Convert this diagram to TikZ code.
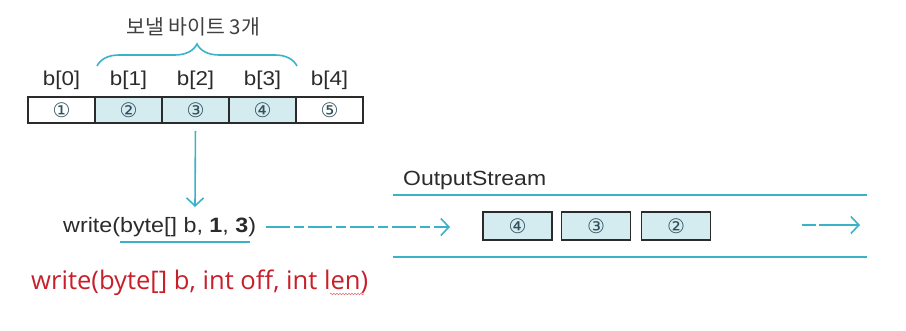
\documentclass[tikz,border=0pt]{standalone}
\usepackage{fontspec}
\setmainfont{Liberation Sans}
\newfontfamily\hangul{Noto Sans CJK KR}
\newfontfamily\circfont{DejaVu Sans}
\newfontfamily\sigfont{Open Sans}
\newfontfamily\widefont[FakeStretch=1.12]{Liberation Sans}
\usetikzlibrary{arrows.meta,decorations.pathreplacing,decorations.pathmorphing}
\definecolor{ink}{HTML}{2B2B2B}
\definecolor{aqua}{HTML}{3AB3C8}
\definecolor{cellfill}{HTML}{D4EBF0}
\definecolor{digit}{HTML}{2F4F5C}
\definecolor{sigred}{HTML}{C8202A}
\tikzset{
  every node/.style={font=\widefont\fontsize{19}{22}\selectfont,text=ink},
  arr/.style={-{Straight Barb[length=8pt,width=17pt]},line width=1.6pt,draw=aqua},
  dasharr/.style={arr,dash pattern=on 24pt off 4pt on 10pt off 4pt},
  rail/.style={draw=aqua,line width=1.8pt},
  cell/.style={draw=ink,line width=1.6pt,minimum width=67pt,minimum height=26pt,inner sep=0,text=digit,font=\circfont\fontsize{20}{20}\selectfont},
  idx/.style={inner sep=0,font=\widefont\fontsize{20}{22}\selectfont}
}
\begin{document}
\begin{tikzpicture}[x=1pt,y=-1pt]
  \path[use as bounding box] (0,0) rectangle (906,331);

  \node[font=\hangul\fontsize{20.5}{24}\selectfont,inner sep=0,text=ink!90] (sendlbl) at (193,27) {보낼 바이트 3개};
  \coordinate (brl) at (97,66);
  \coordinate (brr) at (297,66);
  \draw[rail,line width=1.6pt,decorate,decoration={brace,amplitude=22pt}] (brl) -- (brr);

  \foreach \i/\x/\f/\c in {0/61.5/white/①,1/128.5/cellfill/②,2/195.5/cellfill/③,3/262.5/cellfill/④,4/329.5/white/⑤} {
    \node[cell,fill=\f] (c\i) at (\x,110) {\c};
    \node[idx] (b\i) at (\x,80) {b[\i]};
  }

  \node[anchor=west,inner sep=0,font=\widefont\fontsize{20.8}{24}\selectfont] (wr) at (63,227) {write(byte[] b, \textbf{1}, \textbf{3})};
  \coordinate (drop) at (195,207);
  \draw[arr,shorten <=7pt] (c2.south) -- (drop);
  \coordinate (ul1) at (120,242);
  \coordinate (ul2) at (250,242);
  \draw[rail] (ul1) -- (ul2);

  \node[anchor=west,inner sep=0,font=\sigfont\fontsize{25.6}{28}\selectfont,text=sigred] (sig) at (31,283) {write(byte[] b, int off, int len)};
  \coordinate (wv1) at (330,294);
  \coordinate (wv2) at (364,294);
  \draw[sigred!60,line width=.6pt,decorate,decoration={snake,amplitude=.8pt,segment length=3pt}] (wv1) -- (wv2);

  \node[anchor=west,inner sep=0,font=\widefont\fontsize{20.5}{24}\selectfont] (osname) at (403,180) {OutputStream};
  \coordinate (tl) at (393,195);
  \coordinate (tr) at (867,195);
  \coordinate (bl) at (393,257);
  \coordinate (br) at (867,257);
  \draw[rail] (tl) -- (tr);
  \draw[rail] (bl) -- (br);

  \node[cell,fill=cellfill,minimum width=69pt,minimum height=28pt] (s4) at (517.5,226) {④};
  \node[cell,fill=cellfill,minimum width=69pt,minimum height=28pt] (s3) at (596,226) {③};
  \node[cell,fill=cellfill,minimum width=69pt,minimum height=28pt] (s2) at (676,226) {②};

  \coordinate (inlet) at (450,227);
  \draw[dasharr,shorten <=10pt] (wr.east) -- (inlet);
  \coordinate (outa) at (802,225);
  \coordinate (outb) at (860,225);
  \draw[dasharr,dash pattern=on 14pt off 3pt on 40pt off 0pt] (outa) -- (outb);
\end{tikzpicture}
\end{document}
